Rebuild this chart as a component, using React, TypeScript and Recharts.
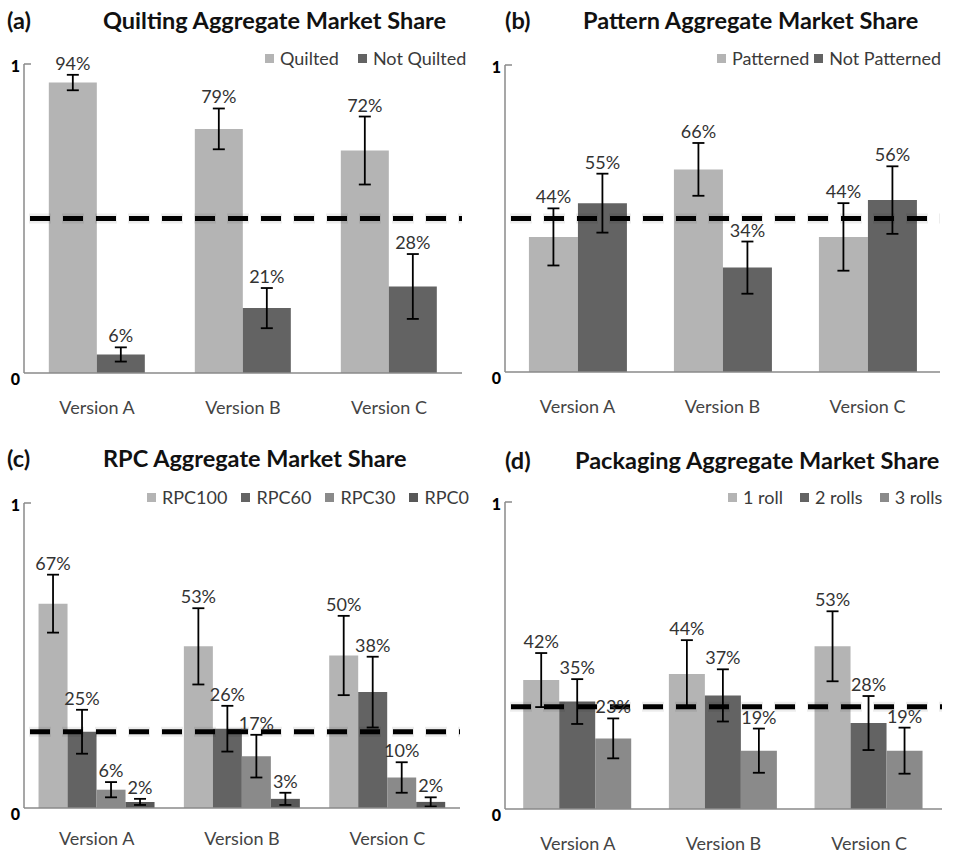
import React from 'react';
import { BarChart, Bar, XAxis, YAxis, ErrorBar, ReferenceLine, LabelList } from 'recharts';

const versions = ['Version A', 'Version B', 'Version C'];
const yTicks = [0, 1];

// (a) Quilting
const quiltNames = ['Quilted', 'Not Quilted'];
const quiltedVals = [0.94, 0.79, 0.72];
const quiltedErr = [0.025, 0.066, 0.11];
const notQuiltedVals = [0.06, 0.21, 0.28];
const notQuiltedErr = [0.023, 0.065, 0.105];
const quiltRef = 0.5;

// (b) Pattern
const patternNames = ['Patterned', 'Not Patterned'];
const patternedVals = [0.44, 0.66, 0.44];
const patternedErr = [0.093, 0.086, 0.11];
const notPatternedVals = [0.55, 0.34, 0.56];
const notPatternedErr = [0.096, 0.085, 0.11];
const patternRef = 0.5;

// (c) RPC
const rpcNames = ['RPC100', 'RPC60', 'RPC30', 'RPC0'];
const rpc100Vals = [0.67, 0.53, 0.5];
const rpc100Err = [0.095, 0.125, 0.13];
const rpc60Vals = [0.25, 0.26, 0.38];
const rpc60Err = [0.072, 0.075, 0.116];
const rpc30Vals = [0.06, 0.17, 0.1];
const rpc30Err = [0.025, 0.07, 0.05];
const rpc0Vals = [0.02, 0.03, 0.02];
const rpc0Err = [0.01, 0.02, 0.015];
const rpcRef = 0.25;

// (d) Packaging
const packNames = ['1 roll', '2 rolls', '3 rolls'];
const roll1Vals = [0.42, 0.44, 0.53];
const roll1Err = [0.088, 0.11, 0.114];
const roll2Vals = [0.35, 0.37, 0.28];
const roll2Err = [0.073, 0.085, 0.088];
const roll3Vals = [0.23, 0.19, 0.19];
const roll3Err = [0.065, 0.072, 0.075];
const packRef = 1 / 3;

const LIGHT = '#b4b4b4';
const DARK = '#636363';
const MID = '#8a8a8a';
const DARKER = '#585858';

const FONT = 'Lato, "Open Sans", sans-serif';

type Series = { name: string; vals: number[]; errs: number[]; color: string };

const makeLabel = (vals: number[], errs: number[]) => (props: any) => {
  const { x, y, width, height, index } = props;
  const v = vals[index];
  const e = errs[index];
  const ppu = v > 0 ? Number(height) / v : 0;
  const top = Number(y) - e * ppu;
  return (
    <text
      x={Number(x) + Number(width) / 2}
      y={top - 5}
      textAnchor="middle"
      fontFamily={FONT}
      fontSize={18}
      fill="#333"
    >
      {Math.round(v * 100)}%
    </text>
  );
};

const YTick = (props: any) => {
  const { x, y, payload } = props;
  const v = payload.value;
  return (
    <g>
      <text
        x={x - 4}
        y={y + (v === 0 ? 5 : 1)}
        textAnchor="end"
        dominantBaseline="central"
        fontFamily={FONT}
        fontWeight="900"
        fontSize={16}
        fill="#000"
      >
        {v}
      </text>
      {v === 1 && <line x1={x} x2={x + 7} y1={y} y2={y} stroke="#8a8a8a" strokeWidth={1.5} />}
    </g>
  );
};

const makeXTick = (off: number) => (props: any) => {
  const { x, y, payload } = props;
  return (
    <text
      x={x}
      y={y + off}
      textAnchor="middle"
      dominantBaseline="central"
      fontFamily={FONT}
      fontSize={18}
      fill="#444"
    >
      {payload.value}
    </text>
  );
};

type PanelProps = {
  left: number;
  top: number;
  width: number;
  height: number;
  margin: { top: number; right: number; left: number; bottom: number };
  tag: string;
  title: string;
  tagX: number;
  titleX: number;
  titleY: number;
  legendX: number;
  legendY: number;
  legendGap: number;
  series: Series[];
  refY: number;
  gap: string;
  xOff: number;
};

const Panel = (p: PanelProps) => {
  const data = versions.map((v, i) => {
    const row: any = { name: v };
    p.series.forEach((s, k) => {
      row['v' + k] = s.vals[i];
      row['e' + k] = s.errs[i];
    });
    return row;
  });
  const titleStyle: React.CSSProperties = {
    position: 'absolute',
    top: p.titleY - 15,
    height: 30,
    lineHeight: '30px',
    fontFamily: FONT,
    fontWeight: 'bold',
    fontSize: 23.5,
    color: '#111',
    whiteSpace: 'nowrap',
  };
  return (
    <>
      <div style={{ ...titleStyle, left: p.tagX }}>{p.tag}</div>
      <div style={{ ...titleStyle, left: p.titleX }}>{p.title}</div>
      <div
        style={{
          position: 'absolute',
          left: p.legendX,
          top: p.legendY - 12,
          height: 24,
          display: 'flex',
          alignItems: 'center',
          gap: p.legendGap,
          fontFamily: FONT,
          fontSize: 18,
          color: '#3a3a3a',
          whiteSpace: 'nowrap',
        }}
      >
        {p.series.map((s) => (
          <div key={s.name} style={{ display: 'flex', alignItems: 'center', gap: 6 }}>
            <div style={{ width: 9, height: 9, background: s.color }} />
            <span>{s.name}</span>
          </div>
        ))}
      </div>
      <div style={{ position: 'absolute', left: p.left, top: p.top }}>
        <BarChart
          width={p.width}
          height={p.height}
          data={data}
          margin={p.margin}
          barCategoryGap={p.gap}
          barGap={0}
        >
          <XAxis
            dataKey="name"
            axisLine={{ stroke: '#8a8a8a', strokeWidth: 1.5 }}
            tickLine={false}
            tickSize={0}
            tickMargin={0}
            tick={makeXTick(p.xOff)}
            height={40}
            interval={0}
          />
          <YAxis
            domain={[0, 1]}
            ticks={yTicks}
            axisLine={{ stroke: '#8a8a8a', strokeWidth: 1.5 }}
            tickLine={false}
            tickSize={0}
            tickMargin={0}
            tick={<YTick />}
            width={20}
          />
          {p.series.map((s, k) => (
            <Bar key={s.name} dataKey={'v' + k} fill={s.color} isAnimationActive={false}>
              <ErrorBar dataKey={'e' + k} width={6} stroke="#000" strokeWidth={1.8} />
              <LabelList dataKey={'v' + k} content={makeLabel(s.vals, s.errs)} />
            </Bar>
          ))}
          <ReferenceLine
            y={p.refY}
            stroke="#000"
            strokeOpacity={0.07}
            strokeWidth={10}
            strokeDasharray="22 11"
            strokeDashoffset={28}
          />
          <ReferenceLine
            y={p.refY}
            stroke="#000"
            strokeWidth={5}
            strokeDasharray="20 13"
            strokeDashoffset={27}
          />
        </BarChart>
      </div>
    </>
  );
};

export default function App() {
  return (
    <div style={{ position: 'absolute', left: 0, top: 0, width: 963, height: 853, background: '#fff', overflow: 'hidden' }}>
      <Panel
        left={0}
        top={0}
        width={480}
        height={430}
        margin={{ top: 64, right: 18, left: 4, bottom: 17 }}
        tag="(a)"
        title="Quilting Aggregate Market Share"
        tagX={7}
        titleX={103}
        titleY={20}
        legendX={265}
        legendY={58}
        legendGap={19}
        series={[
          { name: quiltNames[0], vals: quiltedVals, errs: quiltedErr, color: LIGHT },
          { name: quiltNames[1], vals: notQuiltedVals, errs: notQuiltedErr, color: DARK },
        ]}
        refY={quiltRef}
        gap="17%"
        xOff={34}
      />
      <Panel
        left={480}
        top={0}
        width={483}
        height={430}
        margin={{ top: 65, right: 23, left: 5, bottom: 18 }}
        tag="(b)"
        title="Pattern Aggregate Market Share"
        tagX={505}
        titleX={583}
        titleY={20}
        legendX={717}
        legendY={58}
        legendGap={5}
        series={[
          { name: patternNames[0], vals: patternedVals, errs: patternedErr, color: LIGHT },
          { name: patternNames[1], vals: notPatternedVals, errs: notPatternedErr, color: DARK },
        ]}
        refY={patternRef}
        gap="16.5%"
        xOff={34}
      />
      <Panel
        left={0}
        top={430}
        width={480}
        height={423}
        margin={{ top: 73, right: 20, left: 4, bottom: 5 }}
        tag="(c)"
        title="RPC Aggregate Market Share"
        tagX={7}
        titleX={103}
        titleY={458}
        legendX={147}
        legendY={497}
        legendGap={14}
        series={[
          { name: rpcNames[0], vals: rpc100Vals, errs: rpc100Err, color: LIGHT },
          { name: rpcNames[1], vals: rpc60Vals, errs: rpc60Err, color: DARK },
          { name: rpcNames[2], vals: rpc30Vals, errs: rpc30Err, color: MID },
          { name: rpcNames[3], vals: rpc0Vals, errs: rpc0Err, color: DARKER },
        ]}
        refY={rpcRef}
        gap="10%"
        xOff={30}
      />
      <Panel
        left={480}
        top={430}
        width={483}
        height={423}
        margin={{ top: 72, right: 21, left: 5, bottom: 4 }}
        tag="(d)"
        title="Packaging Aggregate Market Share"
        tagX={505}
        titleX={575}
        titleY={460}
        legendX={728}
        legendY={497}
        legendGap={17}
        series={[
          { name: packNames[0], vals: roll1Vals, errs: roll1Err, color: LIGHT },
          { name: packNames[1], vals: roll2Vals, errs: roll2Err, color: DARK },
          { name: packNames[2], vals: roll3Vals, errs: roll3Err, color: MID },
        ]}
        refY={packRef}
        gap="12.5%"
        xOff={34}
      />
    </div>
  );
}
